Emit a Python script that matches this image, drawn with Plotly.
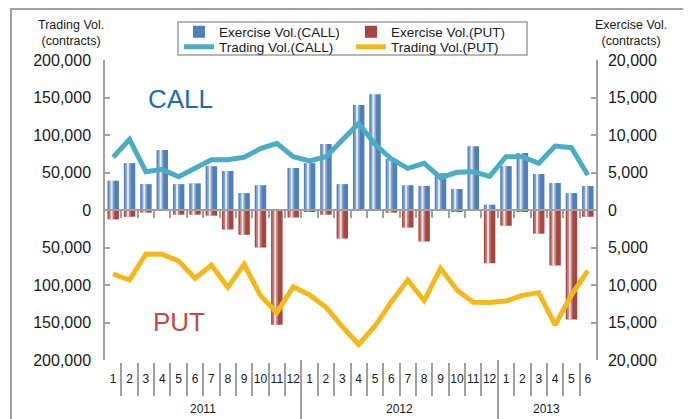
import plotly.graph_objects as go

# ---------------- data ----------------
years = ["2011"] * 12 + ["2012"] * 12 + ["2013"] * 6
months = [str(m) for m in range(1, 13)] * 2 + [str(m) for m in range(1, 7)]

# Exercise volume (right axis, contracts)
exercise_call = [3900, 6250, 3450, 8000, 3450, 3550, 5850, 5200, 2250, 3300, 0, 5600,
                 6250, 8800, 3450, 14000, 15450, 6800, 3300, 3200, 4900, 2800, 8500, 700,
                 5850, 7600, 4800, 3600, 2250, 3200]
exercise_put = [1250, 900, 350, 50, 620, 620, 750, 2600, 3300, 5000, 15300, 1000,
                200, 620, 3800, 0, 0, 350, 2350, 4200, 0, 200, 0, 7100,
                2100, 200, 3150, 7400, 14600, 900]

# Trading volume (left axis, contracts)
trading_call = [70300, 94300, 51100, 54200, 44400, 56400, 67100, 67100, 70300, 81800, 88900, 71100,
                65300, 71100, 93300, 115500, 87600, 68000, 55600, 62200, 43100, 50200, 51100, 44900,
                71100, 71100, 62200, 85300, 83100, 46700]
trading_put = [85300, 93300, 58700, 59100, 68000, 91100, 73300, 103100, 72400, 114200, 136900, 102200,
               113300, 129800, 155600, 179300, 154700, 122200, 93300, 120900, 77800, 106700, 123100, 123300,
               121300, 113800, 110200, 153300, 113300, 80900]

left_ticks = [-200000, -150000, -100000, -50000, 0, 50000, 100000, 150000, 200000]
right_ticks = [-20000, -15000, -10000, -5000, 0, 5000, 10000, 15000, 20000]

# ---------------- layout geometry (page pixels; page body has an 8px margin) ----------------
OFF = 8
W, H = 691 - OFF, 419 - OFF
ML = 105 - OFF
MR = W - (596 - OFF)
MT = 60 - OFF
MB = 0
PW = W - ML - MR
PH = H - MT - MB
PLOT_BOTTOM = 360


def px_x(px):
    return (px - OFF - ML) / PW


def px_y(py):
    return (H - MB - (py - OFF)) / PH


ydom0 = px_y(PLOT_BOTTOM)
n = len(months)
idx = list(range(n))
xrange_ = [-0.5, n - 0.5]
month_bounds = [i + 0.5 for i in range(n - 1)]
year_bounds = [-0.5] + [i - 0.5 for i in range(1, n) if years[i] != years[i - 1]] + [n - 0.5]
year_names = list(dict.fromkeys(years))
year_centers = [sum(i for i in idx if years[i] == y) / years.count(y) for y in year_names]

GRAY = "#A0A0A0"
BLUE = "#4F7FBC"
RED = "#A8453F"
FONT = "Liberation Sans, Arial, sans-serif"

fig = go.Figure()

neg_put = [-v for v in exercise_put]

# exercise bars + cylinder-like highlights
for vals, col, name in [(exercise_call, BLUE, "Exercise Vol.(CALL)"),
                        (neg_put, RED, "Exercise Vol.(PUT)")]:
    fig.add_trace(go.Bar(x=idx, y=vals, name=name, marker=dict(color=col, line=dict(width=0)),
                         width=0.7, yaxis="y", xaxis="x", legend="legend"))
for vals in [exercise_call, neg_put]:
    fig.add_trace(go.Bar(x=idx, y=vals, showlegend=False, hoverinfo="skip",
                         marker=dict(color="rgba(255,255,255,0.30)", line=dict(width=0)),
                         width=0.34, offset=-0.27, yaxis="y", xaxis="x"))
    fig.add_trace(go.Bar(x=idx, y=vals, showlegend=False, hoverinfo="skip",
                         marker=dict(color="rgba(255,255,255,0.8)", line=dict(width=0)),
                         width=0.12, offset=-0.16, yaxis="y", xaxis="x"))

# trading lines
fig.add_trace(go.Scatter(x=idx, y=trading_call, name="Trading Vol.(CALL)", mode="lines",
                         line=dict(color="#4BACC6", width=5), yaxis="y2", xaxis="x", legend="legend2"))
fig.add_trace(go.Scatter(x=idx, y=[-v for v in trading_put], name="Trading Vol.(PUT)", mode="lines",
                         line=dict(color="#F5B81A", width=5), yaxis="y2", xaxis="x", legend="legend2"))

# invisible helpers so the extra x axes get drawn
for ax in ["x2", "x3", "x4"]:
    fig.add_trace(go.Scatter(x=idx, y=[0] * n, mode="lines", line=dict(width=0),
                             opacity=0, showlegend=False, hoverinfo="skip", xaxis=ax, yaxis="y"))

helper_axis = dict(overlaying="x", anchor="free", range=xrange_, tickmode="array",
                   showticklabels=False, showgrid=False, zeroline=False, automargin=False,
                   tickcolor=GRAY, tickwidth=1.5)

legend_common = dict(orientation="h", xanchor="left", yanchor="middle", borderwidth=0,
                     bgcolor="rgba(0,0,0,0)", font=dict(size=13.5), entrywidth=127,
                     entrywidthmode="pixels", traceorder="normal", x=px_x(179))

fig.update_layout(
    width=W, height=H,
    margin=dict(l=ML, r=MR, t=MT, b=MB, autoexpand=False),
    template="none",
    paper_bgcolor="white", plot_bgcolor="white",
    font=dict(family=FONT, color="#1a1a1a"),
    barmode="overlay",
    xaxis=dict(range=xrange_, anchor="y", showline=False, ticks="", tickmode="array",
               tickvals=idx, ticktext=months, showgrid=False, zeroline=False,
               tickfont=dict(size=12), tickangle=0, ticklabelstandoff=10, automargin=False),
    # month separators in the label band
    xaxis2=dict(helper_axis, position=px_y(396), tickvals=month_bounds, ticks="inside", ticklen=33,
                showline=False),
    # zero-level horizontal axis with boundary ticks
    xaxis3=dict(helper_axis, position=(ydom0 + 1) / 2, tickvals=month_bounds, ticks="outside", ticklen=7,
                showline=True, linecolor=GRAY, linewidth=1.5),
    # year dividers
    xaxis4=dict(helper_axis, position=0, tickvals=year_bounds, ticks="inside", ticklen=419 - PLOT_BOTTOM,
                showline=False),
    yaxis=dict(domain=[ydom0, 1], range=[-20000, 20000], side="right", anchor="x",
               tickmode="array", tickvals=right_ticks, ticktext=[f"{abs(v):,}" for v in right_ticks],
               ticks="inside", ticklen=5, tickwidth=1.5, tickcolor=GRAY,
               showline=True, linecolor=GRAY, linewidth=1.5, showgrid=False, zeroline=False,
               tickfont=dict(size=16), ticklabelstandoff=7, automargin=False),
    yaxis2=dict(overlaying="y", range=[-200000, 200000], side="left", anchor="x",
                tickmode="array", tickvals=left_ticks, ticktext=[f"{abs(v):,}" for v in left_ticks],
                ticks="inside", ticklen=5, tickwidth=1.5, tickcolor=GRAY,
                showline=True, linecolor=GRAY, linewidth=1.5, showgrid=False, zeroline=False,
                tickfont=dict(size=16), ticklabelstandoff=9, automargin=False),
    legend=dict(legend_common, y=px_y(32)),
    legend2=dict(legend_common, y=px_y(47)),
    showlegend=True,
)

# outer frame and legend box
fig.add_shape(type="rect", xref="paper", yref="paper", x0=px_x(11), x1=px_x(684),
              y0=px_y(440), y1=px_y(9), line=dict(color=GRAY, width=2), layer="below")
fig.add_shape(type="rect", xref="paper", yref="paper", x0=px_x(178), x1=px_x(527),
              y0=px_y(55), y1=px_y(22), line=dict(color=GRAY, width=1.5), fillcolor="white",
              layer="below")

annots = [
    dict(text="Trading Vol.<br>(contracts)", xref="paper", x=px_x(71), y=px_y(33), font=dict(size=12.5)),
    dict(text="Exercise Vol.<br>(contracts)", xref="paper", x=px_x(631), y=px_y(33), font=dict(size=12.5)),
    dict(text="CALL", xref="paper", x=px_x(180), y=px_y(99), font=dict(size=26, color="#1E6BB4")),
    dict(text="PUT", xref="paper", x=px_x(179), y=px_y(322), font=dict(size=26, color="#BE4B48")),
]
for yn, yc in zip(year_names, year_centers):
    annots.append(dict(text=yn, xref="x", x=yc, y=px_y(409), font=dict(size=12)))
for a in annots:
    fig.add_annotation(yref="paper", showarrow=False, xanchor="center", yanchor="middle", **a)

fig.write_html("out.html")
